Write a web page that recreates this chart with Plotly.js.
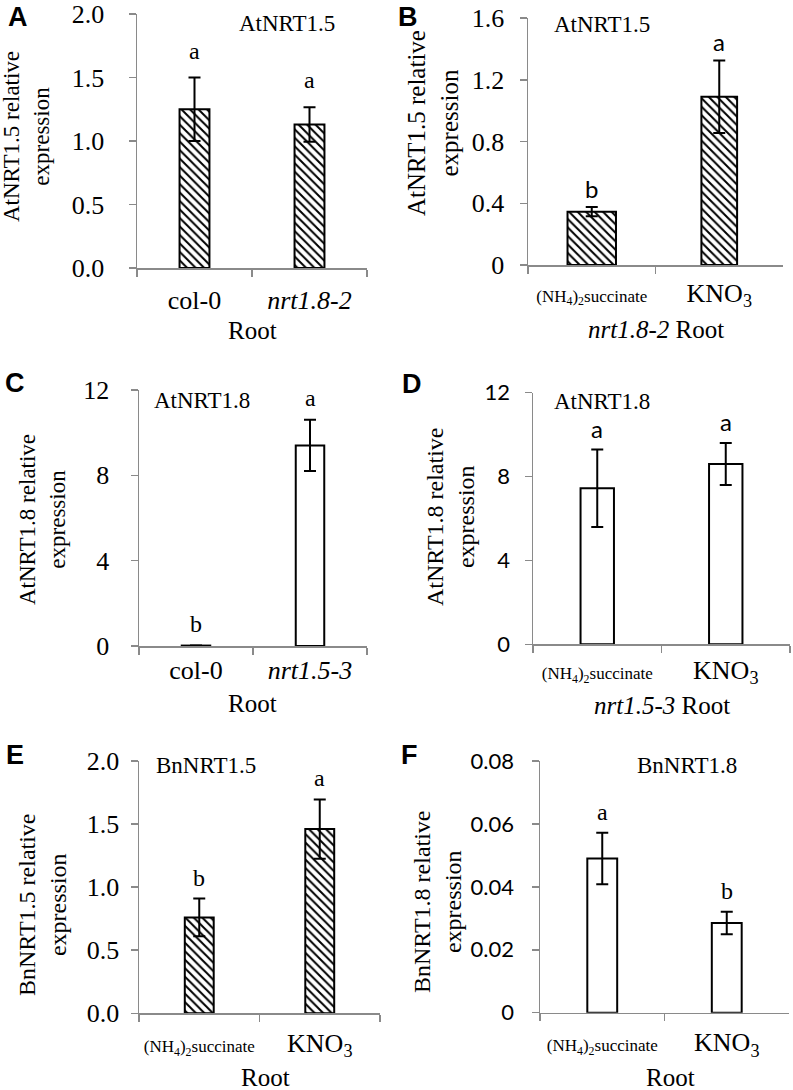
<!DOCTYPE html>
<html>
<head>
<meta charset="utf-8">
<script src="https://cdn.plot.ly/plotly-3.0.1.min.js"></script>
<style>html,body{margin:0;padding:0;background:#fff;}#chart{width:793px;height:1090px;}</style>
</head>
<body>
<div id="chart"></div>
<script>
// ---------- data ----------
const SUCC = '<span style="font-size:17px">(NH<sub>4</sub>)<sub>2</sub>succinate</span>';
const KNO3 = 'KNO<sub>3</sub>';

const catsA = ['col-0', '<i>nrt1.8-2</i>'];
const valsA = [1.25, 1.13];
const errA = [0.25, 0.135];
const lettersA = ['a', 'a'];
const yTicksA = [0, 0.5, 1.0, 1.5, 2.0];
const yTickTextA = ['0.0', '0.5', '1.0', '1.5', '2.0'];

const catsB = [SUCC, KNO3];
const valsB = [0.345, 1.09];
const errB = [0.03, 0.235];
const lettersB = ['b', 'a'];
const yTicksB = [0, 0.4, 0.8, 1.2, 1.6];
const yTickTextB = ['0', '0.4', '0.8', '1.2', '1.6'];

const catsC = ['col-0', '<i>nrt1.5-3</i>'];
const valsC = [0.02, 9.4];
const errC = [0, 1.2];
const lettersC = ['b', 'a'];
const yTicksC = [0, 4, 8, 12];
const yTickTextC = ['0', '4', '8', '12'];

const catsD = [SUCC, KNO3];
const valsD = [7.44, 8.6];
const errD = [1.85, 1.0];
const lettersD = ['a', 'a'];
const yTicksD = [0, 4, 8, 12];
const yTickTextD = ['0', '4', '8', '12'];

const catsE = [SUCC, KNO3];
const valsE = [0.76, 1.46];
const errE = [0.15, 0.235];
const lettersE = ['b', 'a'];
const yTicksE = [0, 0.5, 1.0, 1.5, 2.0];
const yTickTextE = ['0.0', '0.5', '1.0', '1.5', '2.0'];

const catsF = [SUCC, KNO3];
const valsF = [0.049, 0.0285];
const errF = [0.0082, 0.0036];
const lettersF = ['a', 'b'];
const yTicksF = [0, 0.02, 0.04, 0.06, 0.08];
const yTickTextF = ['0', '0.02', '0.04', '0.06', '0.08'];

// ---------- styling / layout helpers ----------
const W = 793, H = 1090;
const SERIF = '"Liberation Serif", "Times New Roman", serif';
const SANS = 'Lato, "Open Sans", sans-serif';
const ARIAL = '"Liberation Sans", Arial, sans-serif';
const AX = '#8a8a8a';
const fx = p => p / W;
const fy = p => 1 - p / H;

const panels = [
  {cats: catsA, vals: valsA, err: errA, letters: lettersA, ticks: yTicksA, tickText: yTickTextA,
   hatch: true, width: [0.26, 0.26], xd: [137, 367], yd: [14, 268], tickFont: SERIF, letterFont: SERIF, standoff: 19, xstand: 8, lshift: 12,
   panel: 'A', pl: [18, 17], title: 'AtNRT1.5', tp: [287, 23],
   ytitle: 'AtNRT1.5 relative<br>expression', ytp: [27, 137], ytSize: 23,
   xtitle: 'Root', xtp: [252, 331]},
  {cats: catsB, vals: valsB, err: errB, letters: lettersB, ticks: yTicksB, tickText: yTickTextB,
   hatch: true, width: [0.38, 0.28], xd: [528, 783], yd: [18, 265], tickFont: SERIF, letterFont: SANS, standoff: 10, xstand: 4, lshift: 2,
   panel: 'B', pl: [408, 17], title: 'AtNRT1.5', tp: [602, 25],
   ytitle: 'AtNRT1.5 relative<br>expression', ytp: [433, 123], ytSize: 25,
   xtitle: '<i>nrt1.8-2</i> Root', xtp: [656, 329]},
  {cats: catsC, vals: valsC, err: errC, letters: lettersC, ticks: yTicksC, tickText: yTickTextC,
   hatch: false, width: [0.25, 0.25], xd: [139, 367], yd: [390, 646], tickFont: SERIF, letterFont: SERIF, standoff: 16, xstand: 0, lshift: 7,
   panel: 'C', pl: [15, 383], title: 'AtNRT1.8', tp: [202, 400],
   ytitle: 'AtNRT1.8 relative<br>expression', ytp: [42, 520], ytSize: 23,
   xtitle: 'Root', xtp: [252, 703]},
  {cats: catsD, vals: valsD, err: errD, letters: lettersD, ticks: yTicksD, tickText: yTickTextD,
   hatch: false, width: [0.26, 0.26], xd: [533, 790], yd: [392.7, 644.3], tickFont: SANS, letterFont: SANS, standoff: 10, xstand: 2, lshift: 5,
   panel: 'D', pl: [412, 384], title: 'AtNRT1.8', tp: [602, 401],
   ytitle: 'AtNRT1.8 relative<br>expression', ytp: [450, 517], ytSize: 24,
   xtitle: '<i>nrt1.5-3</i> Root', xtp: [662, 705]},
  {cats: catsE, vals: valsE, err: errE, letters: lettersE, ticks: yTicksE, tickText: yTickTextE,
   hatch: true, width: [0.24, 0.24], xd: [139, 380], yd: [761, 1013.3], tickFont: SERIF, letterFont: SERIF, standoff: 6, xstand: 6, lshift: 6,
   panel: 'E', pl: [15, 755], title: 'BnNRT1.5', tp: [206, 765],
   ytitle: 'BnNRT1.5 relative<br>expression', ytp: [42, 905], ytSize: 24,
   xtitle: 'Root', xtp: [265, 1077]},
  {cats: catsF, vals: valsF, err: errF, letters: lettersF, ticks: yTicksF, tickText: yTickTextF,
   hatch: false, width: [0.24, 0.24], xd: [540, 789], yd: [761, 1012.7], tickFont: SANS, letterFont: SERIF, standoff: 13, xstand: 6, lshift: 6,
   panel: 'F', pl: [409, 755], title: 'BnNRT1.8', tp: [687, 765],
   ytitle: 'BnNRT1.8 relative<br>expression', ytp: [437, 902], ytSize: 24,
   xtitle: 'Root', xtp: [670, 1077]}
];

const data = [];
const layout = {
  width: W, height: H, margin: {l: 0, r: 0, t: 0, b: 0},
  paper_bgcolor: '#fff', plot_bgcolor: 'rgba(0,0,0,0)',
  showlegend: false, annotations: [], bargap: 0
};

panels.forEach((p, i) => {
  const n = i + 1;
  const xa = 'x' + n, ya = 'y' + n;
  data.push({
    type: 'bar', x: p.cats, y: p.vals, xaxis: xa, yaxis: ya, width: p.width,
    marker: {
      color: '#ffffff',
      line: {color: '#000', width: 2},
      pattern: p.hatch ? {shape: '\\', fgcolor: '#000', bgcolor: '#fff', size: 6, solidity: 0.33} : {shape: ''}
    },
    error_y: {type: 'data', array: p.err, visible: true, color: '#000', thickness: 2, width: 6},
    hoverinfo: 'skip'
  });
  const ymax = p.ticks[p.ticks.length - 1];
  layout['xaxis' + n] = {
    domain: [fx(p.xd[0]), fx(p.xd[1])], anchor: ya, type: 'category', range: [-0.5, 1.5],
    showline: true, linecolor: AX, linewidth: 1.5, ticks: 'outside', tickson: 'boundaries',
    ticklen: 7, tickcolor: AX, tickwidth: 1.5, showgrid: false, zeroline: false, tickangle: 0,
    tickfont: {family: SERIF, size: 26, color: '#000'}, ticklabelstandoff: p.xstand, fixedrange: true
  };
  layout['yaxis' + n] = {
    domain: [fy(p.yd[1]), fy(p.yd[0])], anchor: xa, range: [0, ymax],
    showline: true, linecolor: AX, linewidth: 1.5, ticks: 'outside', ticklen: 7, tickcolor: AX, tickwidth: 1.5,
    tickmode: 'array', tickvals: p.ticks, ticktext: p.tickText,
    showgrid: false, zeroline: false, ticklabelstandoff: p.standoff,
    tickfont: {family: p.tickFont, size: p.tickFont === SANS ? 22 : 26, color: '#000'}, fixedrange: true
  };
  // significance letters above the error bars
  p.cats.forEach((c, j) => {
    layout.annotations.push({
      xref: xa, yref: ya, x: c, y: p.vals[j] + p.err[j], text: p.letters[j],
      showarrow: false, yanchor: 'bottom', yshift: p.lshift,
      font: {family: p.letterFont, size: 24, color: '#000'}
    });
  });
  // panel letter
  layout.annotations.push({xref: 'paper', yref: 'paper', x: fx(p.pl[0]), y: fy(p.pl[1]), text: '<b>' + p.panel + '</b>',
    showarrow: false, xanchor: 'center', yanchor: 'middle', font: {family: ARIAL, size: 27, color: '#000'}});
  // gene title inside plot
  layout.annotations.push({xref: 'paper', yref: 'paper', x: fx(p.tp[0]), y: fy(p.tp[1]), text: p.title,
    showarrow: false, xanchor: 'center', yanchor: 'middle', font: {family: SERIF, size: 23, color: '#000'}});
  // y-axis title
  layout.annotations.push({xref: 'paper', yref: 'paper', x: fx(p.ytp[0]), y: fy(p.ytp[1]), text: p.ytitle,
    showarrow: false, xanchor: 'center', yanchor: 'middle', textangle: -90,
    font: {family: SERIF, size: p.ytSize, color: '#000'}});
  // x-axis title
  layout.annotations.push({xref: 'paper', yref: 'paper', x: fx(p.xtp[0]), y: fy(p.xtp[1]), text: p.xtitle,
    showarrow: false, xanchor: 'center', yanchor: 'middle', font: {family: SERIF, size: 25, color: '#000'}});
});

Plotly.newPlot('chart', data, layout, {staticPlot: true, displayModeBar: false});
</script>
</body>
</html>
